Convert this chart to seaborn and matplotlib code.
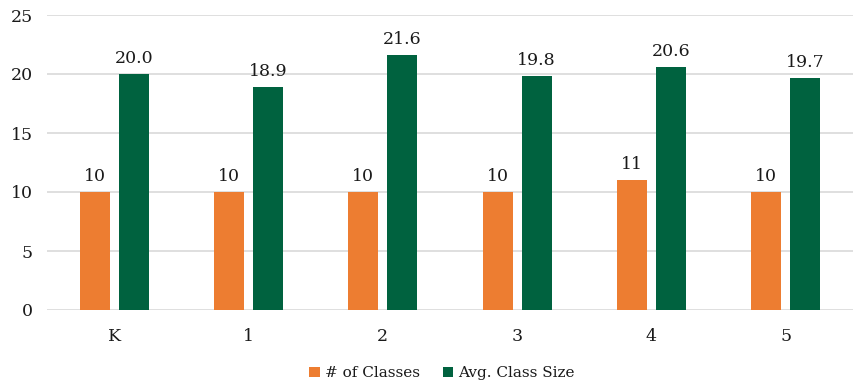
import matplotlib
matplotlib.use("Agg")
import matplotlib.pyplot as plt
import seaborn as sns
import pandas as pd

grades = ["K", "1", "2", "3", "4", "5"]
num_classes = [10, 10, 10, 10, 11, 10]
avg_class_size = [20.0, 18.9, 21.6, 19.8, 20.6, 19.7]
series_names = ["# of Classes", "Avg. Class Size"]
y_ticks = [0, 5, 10, 15, 20, 25]

df = pd.DataFrame({
    "Grade": grades * 2,
    "Series": [series_names[0]] * len(grades) + [series_names[1]] * len(grades),
    "Value": num_classes + avg_class_size,
})

sns.set_theme(style="white")
plt.rcParams["font.family"] = ["DejaVu Serif"]

fig = plt.figure(figsize=(8.54, 3.82), dpi=100)
ax = fig.add_axes([47 / 854, 72 / 382, 806 / 854, 295 / 382])

palette = {series_names[0]: "#ED7D31", series_names[1]: "#00623F"}
sns.barplot(data=df, x="Grade", y="Value", hue="Series", palette=palette,
            width=0.58, gap=0.23, saturation=1, linewidth=0, ax=ax, legend=True)

for cont, fmt in zip(ax.containers, ["{:.0f}", "{:.1f}"]):
    ax.bar_label(cont, labels=[fmt.format(v) for v in cont.datavalues],
                 padding=5, fontsize=12.5, color="#1a1a1a")

ax.set_ylim(0, 25)
ax.set_yticks(y_ticks)
ax.yaxis.grid(True, color="#d9d9d9", linewidth=1.2)
ax.set_axisbelow(True)
for s in ax.spines.values():
    s.set_visible(False)
ax.set_xlabel("")
ax.set_ylabel("")
ax.tick_params(axis="both", length=0, labelsize=12.5, colors="#1a1a1a")
ax.tick_params(axis="y", pad=10)
ax.tick_params(axis="x", pad=13)

handles, labels = ax.get_legend_handles_labels()
ax.legend(handles, labels, loc="lower center", bbox_to_anchor=(0.49, -0.285),
          ncol=2, frameon=False, fontsize=11, handlelength=0.7,
          handleheight=0.7, handletextpad=0.3, columnspacing=1.5,
          labelcolor="#1a1a1a")

fig.savefig("out.png", dpi=100)
